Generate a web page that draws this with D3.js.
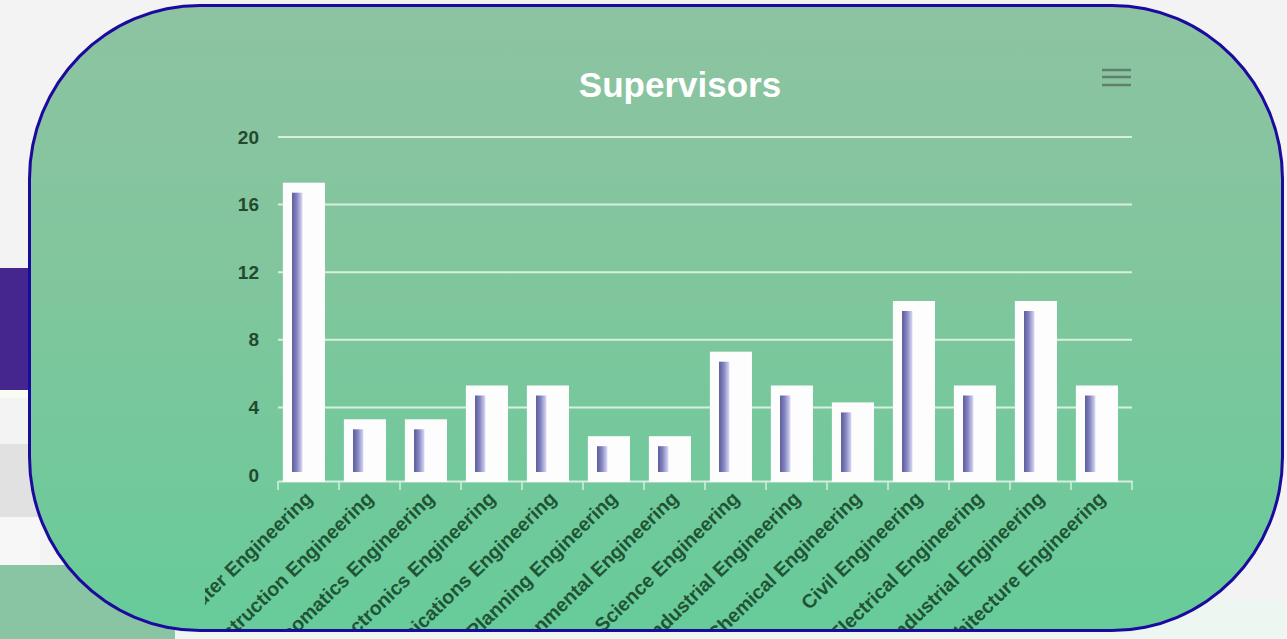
<!DOCTYPE html>
<html>
<head>
<meta charset="utf-8">
<script src="https://cdn.jsdelivr.net/npm/d3@7"></script>
<style>
  html, body { margin: 0; padding: 0; }
  body { width: 1287px; height: 639px; background: #f3f3f3; position: relative; overflow: hidden;
         font-family: "Liberation Sans", Arial, sans-serif; }
  .deco { position: absolute; }
  .card { position: absolute; left: 28px; top: 4px; width: 1256px; height: 628px; box-sizing: border-box;
          border: 3.5px solid #1c0a9f; border-radius: 172px / 175px; overflow: hidden;
          background: linear-gradient(to bottom, #8dc3a1 0%, #80c69d 45%, #67cb9a 100%); }
  .card svg { position: absolute; left: -31.5px; top: -7.5px; }
</style>
</head>
<body>
<div class="deco" style="left:0;top:268px;width:40px;height:122px;background:#45268f"></div>
<div class="deco" style="left:0;top:390px;width:40px;height:8px;background:#fbfbf6"></div>
<div class="deco" style="left:0;top:444px;width:40px;height:73px;background:#e1e1e1"></div>
<div class="deco" style="left:0;top:517px;width:40px;height:48px;background:#f7f7f7"></div>
<div class="deco" style="left:0;top:565px;width:175px;height:74px;background:#89c5a2"></div>
<div class="deco" style="left:175px;top:600px;width:1112px;height:39px;background:#eef6f1"></div>
<div class="card" id="card"></div>
<script>
var w = 1287;
var h = 639;

const categories = [
  "Computer Engineering", "Construction Engineering", "Geomatics Engineering",
  "Electronics Engineering", "Telecommunications Engineering", "Urban Planning Engineering",
  "Environmental Engineering", "Computer Science Engineering", "Industrial Engineering",
  "Chemical Engineering", "Civil Engineering", "Electrical Engineering",
  "Agroindustrial Engineering", "Architecture Engineering"
];
const supervisors = [17, 3, 3, 5, 5, 2, 2, 7, 5, 4, 10, 5, 10, 5];
const yTicks = [0, 4, 8, 12, 16, 20];

var svg = d3.select("#card").append("svg")
    .attr("width", w)
    .attr("height", h);

var x = d3.scaleBand()
    .domain(categories)
    .range([278, 1132])
    .padding(0);

var y = d3.scaleLinear()
    .domain([0, 20])
    .range([475, 137]);

var defs = svg.append("defs");
var grad = defs.append("linearGradient")
    .attr("id", "barGrad")
    .attr("x1", "0%").attr("x2", "100%")
    .attr("y1", "0%").attr("y2", "0%");
grad.append("stop").attr("offset", "0%").attr("stop-color", "#5b5b9c");
grad.append("stop").attr("offset", "45%").attr("stop-color", "#8484c0");
grad.append("stop").attr("offset", "100%").attr("stop-color", "#d9d9f5");

// the chart box itself is narrower than the card
defs.append("clipPath")
    .attr("id", "chartBox")
    .append("rect")
    .attr("x", 205).attr("y", 0)
    .attr("width", 950).attr("height", h);

var chart = svg.append("g")
    .attr("clip-path", "url(#chartBox)");

// title
chart.append("text")
    .attr("x", 680)
    .attr("y", 97)
    .attr("text-anchor", "middle")
    .attr("fill", "#ffffff")
    .style("font-size", "35px")
    .style("font-weight", "bold")
    .text("Supervisors");

// menu icon
chart.append("g")
    .selectAll("line")
    .data([70, 77, 85])
    .enter()
    .append("line")
    .attr("x1", 1102).attr("x2", 1131)
    .attr("y1", d => d).attr("y2", d => d)
    .attr("stroke", "#5f806d")
    .attr("stroke-width", 2.5);

// grid lines
chart.append("g")
    .selectAll("line")
    .data(yTicks.filter(d => d > 0))
    .enter()
    .append("line")
    .attr("x1", 278).attr("x2", 1132)
    .attr("y1", d => y(d)).attr("y2", d => y(d))
    .attr("stroke", "#d8efe0")
    .attr("stroke-width", 2);

// y axis labels
var yAxis = chart.append("g")
    .attr("transform", "translate(259,0)")
    .call(d3.axisLeft(y).tickValues(yTicks).tickSize(0).tickPadding(0));
yAxis.select(".domain").remove();
yAxis.selectAll("text")
    .attr("fill", "#24492f")
    .style("font-size", "19px")
    .style("font-weight", "bold")
    .style("font-family", "'Liberation Sans', Arial, sans-serif");

// x axis
var xAxis = chart.append("g")
    .attr("transform", "translate(0,481)")
    .call(d3.axisBottom(x).tickSize(0).tickFormat(""));
xAxis.select(".domain").attr("stroke", "#d6eedd").attr("stroke-width", 2);
xAxis.selectAll(".tick").remove();

chart.append("g")
    .selectAll("line")
    .data(categories.concat(["end"]))
    .enter()
    .append("line")
    .attr("x1", (d, i) => 278 + i * x.step())
    .attr("x2", (d, i) => 278 + i * x.step())
    .attr("y1", 481).attr("y2", 490)
    .attr("stroke", "#d6eedd")
    .attr("stroke-width", 1.5);

// bars: white frame and gradient inner column
var bars = chart.append("g")
    .selectAll("g")
    .data(supervisors)
    .enter()
    .append("g");

bars.append("rect")
    .attr("x", (d, i) => x(categories[i]) + x.step() * 0.08)
    .attr("width", x.step() * 0.69)
    .attr("y", d => y(d) - 5)
    .attr("height", d => y(0) + 7 - (y(d) - 5))
    .attr("fill", "#fdfdfe");

bars.append("rect")
    .attr("x", (d, i) => x(categories[i]) + x.step() * 0.23)
    .attr("width", x.step() * 0.17)
    .attr("y", d => y(d) + 5)
    .attr("height", d => (y(0) - 3) - (y(d) + 5))
    .attr("fill", "url(#barGrad)");

// category labels
chart.append("g")
    .selectAll("text")
    .data(categories)
    .enter()
    .append("text")
    .attr("transform", d => "translate(" + (x(d) + x.bandwidth() / 2 + 5) + ",500) rotate(-44)")
    .attr("text-anchor", "end")
    .attr("fill", "#1f5534")
    .style("font-size", "19.5px")
    .style("font-weight", "bold")
    .text(d => d);
</script>
</body>
</html>
